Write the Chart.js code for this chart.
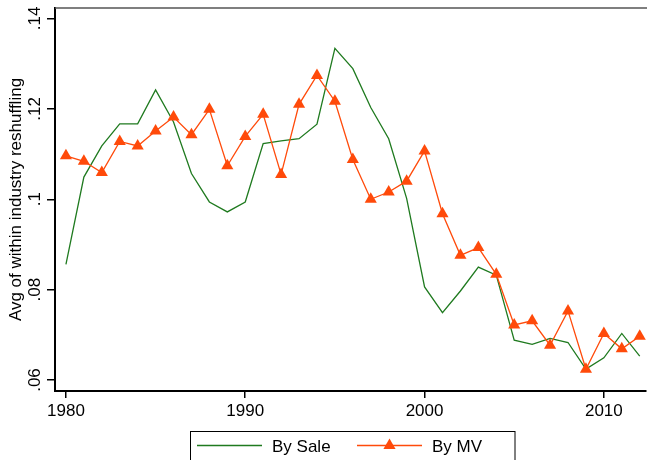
<!DOCTYPE html>
<html>
<head>
<meta charset="utf-8">
<script src="https://cdn.jsdelivr.net/npm/chart.js@4.4.1/dist/chart.umd.min.js"></script>
<style>
  html, body { margin: 0; padding: 0; background: #fff; }
  #wrap { width: 647px; height: 460px; }
</style>
</head>
<body>
<div id="wrap"><canvas id="myChart" width="647" height="460"></canvas></div>
<script>
// data
const years = [1980, 1981, 1982, 1983, 1984, 1985, 1986, 1987, 1988, 1989, 1990,
               1991, 1992, 1993, 1994, 1995, 1996, 1997, 1998, 1999, 2000,
               2001, 2002, 2003, 2004, 2005, 2006, 2007, 2008, 2009, 2010, 2011, 2012];
const bySale = [0.0856, 0.1049, 0.1118, 0.1167, 0.1167, 0.1242, 0.1171, 0.1057, 0.0994, 0.0972, 0.0994,
                0.1123, 0.1129, 0.1134, 0.1166, 0.1334, 0.1289, 0.1203, 0.1134, 0.1002, 0.0806,
                0.0749, 0.0797, 0.0850, 0.0832, 0.0688, 0.0679, 0.0692, 0.0683, 0.0624, 0.0649, 0.0703, 0.0653];
const byMV = [0.1096, 0.1084, 0.1059, 0.1128, 0.1118, 0.1151, 0.1182, 0.1143, 0.1199, 0.1074, 0.1139,
              0.1188, 0.1055, 0.1210, 0.1274, 0.1217, 0.1088, 0.1000, 0.1016, 0.1040, 0.1107,
              0.0968, 0.0876, 0.0893, 0.0834, 0.0722, 0.0731, 0.0677, 0.0753, 0.0624, 0.0703, 0.0669, 0.0697];
const xTicks = [1980, 1990, 2000, 2010];
const yTicks = [0.06, 0.08, 0.10, 0.12, 0.14];
const yTickLabels = ['.06', '.08', '.1', '.12', '.14'];
const yTitle = 'Avg of within industry reshuffling';

const FONT = '"Liberation Sans", Arial, Helvetica, sans-serif';
const GREEN = '#1f7a1f';
const ORANGE = '#ff4a0a';

// rotated y labels, title, top border and boxed legend
const extras = {
    id: 'extras',
    afterDraw(chart) {
        const ctx = chart.ctx;
        const area = chart.chartArea;
        const ys = chart.scales.y;

        ctx.save();
        // top border of plot region
        ctx.strokeStyle = '#555';
        ctx.lineWidth = 1.5;
        ctx.beginPath();
        ctx.moveTo(area.left, area.top);
        ctx.lineTo(chart.width, area.top);
        ctx.stroke();

        ctx.fillStyle = '#000';
        ctx.font = '17px ' + FONT;
        ctx.textAlign = 'center';
        ctx.textBaseline = 'alphabetic';
        yTicks.forEach((v, i) => {
            const py = ys.getPixelForValue(v);
            ctx.save();
            ctx.translate(40, py);
            ctx.rotate(-Math.PI / 2);
            ctx.fillText(yTickLabels[i], 0, 0);
            ctx.restore();
        });

        ctx.save();
        ctx.translate(20.5, (area.top + area.bottom) / 2);
        ctx.rotate(-Math.PI / 2);
        ctx.fillText(yTitle, 0, 0);
        ctx.restore();

        // legend
        ctx.strokeStyle = '#000';
        ctx.lineWidth = 1;
        ctx.strokeRect(190.5, 431.5, 324.5, 40);
        const ly = 445.5;
        const ds = chart.data.datasets;
        const items = [{ x: 197, d: ds[0] }, { x: 357, d: ds[1] }];
        ctx.textAlign = 'left';
        items.forEach(it => {
            ctx.strokeStyle = it.d.borderColor;
            ctx.lineWidth = 1.3;
            ctx.beginPath();
            ctx.moveTo(it.x, ly);
            ctx.lineTo(it.x + 65, ly);
            ctx.stroke();
            if (it.d.pointRadius > 0) {
                const r = it.d.pointRadius;
                const cx = it.x + 32.5;
                ctx.fillStyle = it.d.pointBackgroundColor;
                ctx.beginPath();
                ctx.moveTo(cx, ly - r);
                ctx.lineTo(cx + r * Math.sqrt(3) / 2, ly + r / 2);
                ctx.lineTo(cx - r * Math.sqrt(3) / 2, ly + r / 2);
                ctx.closePath();
                ctx.fill();
            }
            ctx.fillStyle = '#000';
            ctx.fillText(it.d.label, it.x + 75, 452);
        });
        ctx.restore();
    }
};

const ctx = document.getElementById('myChart').getContext('2d');
const myChart = new Chart(ctx, {
    type: 'line',
    data: {
        datasets: [{
            label: 'By Sale',
            data: years.map((yr, i) => ({ x: yr, y: bySale[i] })),
            borderColor: GREEN,
            borderWidth: 1.3,
            pointRadius: 0,
            tension: 0,
            order: 1
        }, {
            label: 'By MV',
            data: years.map((yr, i) => ({ x: yr, y: byMV[i] })),
            borderColor: ORANGE,
            borderWidth: 1.3,
            pointStyle: 'triangle',
            pointRadius: 7,
            pointBackgroundColor: ORANGE,
            pointBorderWidth: 0,
            tension: 0,
            order: 0
        }]
    },
    options: {
        responsive: false,
        animation: false,
        devicePixelRatio: 1,
        layout: { autoPadding: false, padding: { top: 8, right: 1, left: 0, bottom: 0 } },
        plugins: { legend: { display: false }, tooltip: { enabled: false } },
        scales: {
            x: {
                type: 'linear',
                min: 1979.39,
                max: 2012.35,
                afterBuildTicks: s => { s.ticks = xTicks.map(v => ({ value: v })); },
                afterFit: s => { s.height = 69; s.paddingLeft = 0; s.paddingRight = 0; },
                grid: { display: true, drawOnChartArea: false, drawTicks: true, tickLength: 7, color: '#000', lineWidth: 1.5 },
                border: { display: true, color: '#000', width: 2 },
                ticks: {
                    color: '#000',
                    font: { family: FONT, size: 17 },
                    padding: 3,
                    maxRotation: 0,
                    callback: v => String(v)
                }
            },
            y: {
                type: 'linear',
                min: 0.05757,
                max: 0.14232,
                afterBuildTicks: s => { s.ticks = yTicks.map(v => ({ value: v })); },
                afterFit: s => { s.width = 55; s.paddingTop = 0; s.paddingBottom = 0; },
                grid: { display: true, drawOnChartArea: false, drawTicks: true, tickLength: 8, color: '#000', lineWidth: 1.5 },
                border: { display: true, color: '#000', width: 2 },
                ticks: { display: false }
            }
        }
    },
    plugins: [extras]
});
</script>
</body>
</html>
